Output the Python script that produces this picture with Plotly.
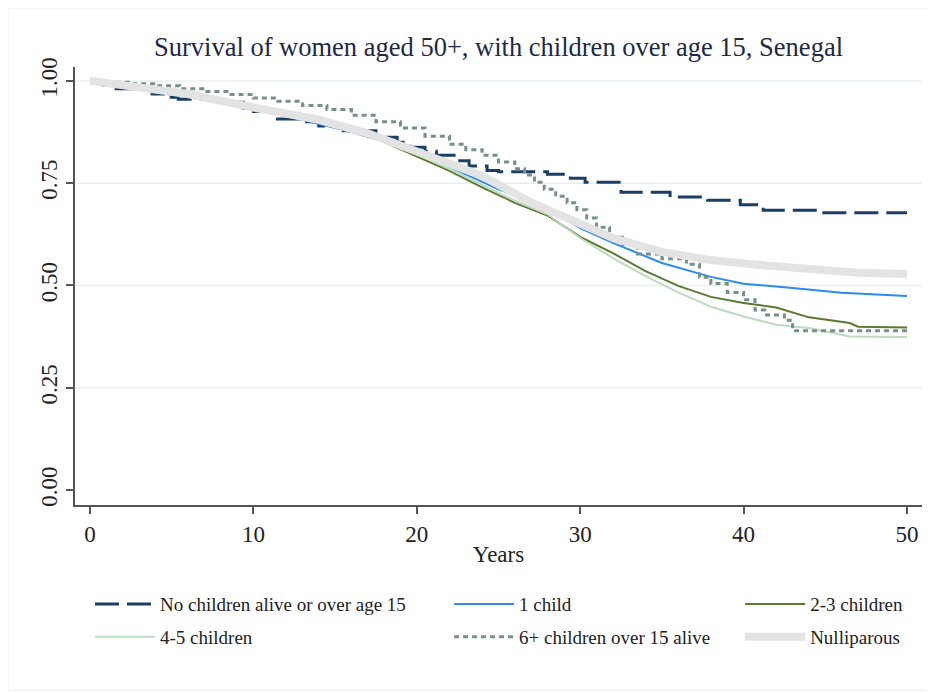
import plotly.graph_objects as go

# ---------------- data ----------------
x_none = [0, 0.8, 1.6, 3.8, 4.6, 5.4, 8, 9.4, 10, 11.2, 13, 14, 15.5, 17.5, 18.8, 19.6, 20.5, 21.2,
          22.5, 23.2, 24.3, 25, 28, 29.4, 30.3, 32.5, 35.5, 37.8, 39.8, 41.2, 44.5, 50]
y_none = [1.0, 0.99, 0.981, 0.968, 0.96, 0.955, 0.948, 0.933, 0.925, 0.907, 0.9, 0.89, 0.878, 0.862,
          0.85, 0.838, 0.828, 0.818, 0.805, 0.792, 0.781, 0.778, 0.772, 0.762, 0.752, 0.728, 0.716,
          0.708, 0.697, 0.684, 0.678, 0.678]

x_one = [0, 2, 4, 6, 8, 10, 13, 16, 19, 22, 25, 27, 28, 30, 32, 35, 38, 40, 43, 46, 50]
y_one = [1.0, 0.99, 0.972, 0.96, 0.948, 0.932, 0.905, 0.875, 0.84, 0.79, 0.735, 0.707, 0.688, 0.64,
         0.604, 0.555, 0.521, 0.504, 0.494, 0.482, 0.474]

x_23 = [0, 3, 6, 10, 14, 17, 18, 20, 22, 24, 26, 28, 30, 32, 34, 36, 38, 40, 42, 44, 46.5, 47, 50]
y_23 = [1.0, 0.984, 0.967, 0.934, 0.903, 0.868, 0.85, 0.815, 0.78, 0.74, 0.702, 0.671, 0.619, 0.579,
        0.535, 0.499, 0.472, 0.457, 0.446, 0.422, 0.408, 0.399, 0.397]

x_45 = [0, 3, 6, 10, 14, 17, 18, 20, 22, 24, 26, 28, 30, 32, 34, 36, 38, 40, 42, 44, 45, 46.5, 50]
y_45 = [1.0, 0.986, 0.969, 0.936, 0.905, 0.872, 0.856, 0.82, 0.785, 0.746, 0.707, 0.674, 0.616, 0.567,
        0.523, 0.483, 0.448, 0.424, 0.404, 0.396, 0.388, 0.375, 0.374]

x_6p = [0, 1, 2.5, 4, 5.5, 7, 8.5, 10, 11.5, 13, 14.5, 16, 17.5, 19, 20.5, 22, 23, 24, 25, 26, 26.6,
        27.2, 27.8, 28.5, 29.2, 29.8, 30.4, 31, 31.8, 32.6, 33.5, 35, 36.5, 37.3, 38, 39, 40, 40.7,
        41.3, 42.5, 43, 50]
y_6p = [1.0, 0.997, 0.993, 0.988, 0.981, 0.974, 0.967, 0.958, 0.95, 0.94, 0.93, 0.916, 0.9, 0.885,
        0.865, 0.845, 0.832, 0.818, 0.802, 0.785, 0.77, 0.752, 0.735, 0.718, 0.702, 0.685, 0.665,
        0.642, 0.618, 0.6, 0.577, 0.565, 0.552, 0.52, 0.505, 0.483, 0.465, 0.44, 0.428, 0.415,
        0.389, 0.389]

x_nulli = [0, 3, 6, 10, 14, 17, 21, 24, 27, 30, 32, 35, 38, 41, 44, 47, 50]
y_nulli = [1.0, 0.985, 0.968, 0.935, 0.905, 0.872, 0.812, 0.768, 0.703, 0.648, 0.616, 0.582, 0.562,
           0.550, 0.540, 0.531, 0.528]

x_ticks = [0, 10, 20, 30, 40, 50]
y_ticks = [0.0, 0.25, 0.5, 0.75, 1.0]

FONT = "Liberation Serif, Times New Roman, serif"

fig = go.Figure()

fig.add_trace(go.Scatter(x=x_none, y=y_none, mode="lines", line_shape="hv",
                         name="No children alive or over age 15", legend="legend", legendgroup="a",
                         line=dict(color="#1a3f66", width=3, dash="24px,8px")))
fig.add_trace(go.Scatter(x=x_one, y=y_one, mode="lines", name="1 child", legend="legend2",
                         legendgroup="b", line=dict(color="#2a8cf0", width=2)))
fig.add_trace(go.Scatter(x=x_23, y=y_23, mode="lines", name="2-3 children", legend="legend3",
                         legendgroup="c", line=dict(color="#5a7a2e", width=2)))
fig.add_trace(go.Scatter(x=x_45, y=y_45, mode="lines", name="4-5 children", legend="legend",
                         legendgroup="d", line=dict(color="#bcdbbf", width=2)))
fig.add_trace(go.Scatter(x=x_6p, y=y_6p, mode="lines", line_shape="hv",
                         name="6+ children over 15 alive", legend="legend2", legendgroup="e",
                         line=dict(color="#75918a", width=3, dash="5px,4px")))
fig.add_trace(go.Scatter(x=x_nulli, y=y_nulli, mode="lines", name="Nulliparous", legend="legend3",
                         legendgroup="f", line=dict(color="#e3e3e3", width=8)))

leg_common = dict(orientation="v", xanchor="left", yanchor="top", bgcolor="rgba(0,0,0,0)",
                  font=dict(family=FONT, size=19, color="#222222"), itemwidth=60,
                  tracegroupgap=5, itemclick=False)

# page body has an 8px margin: the figure is sized so the plot area lands at x 75..922, y 67..505
W, H = 927, 684
fig.update_layout(
    width=W, height=H,
    margin=dict(l=67, r=13, t=59, b=187),
    paper_bgcolor="white", plot_bgcolor="white",
    font=dict(family=FONT, color="#222222"),
    title=dict(text="Survival of women aged 50+, with children over age 15, Senegal",
               x=0.5, xref="paper", xanchor="center", y=1 - 39 / H, yanchor="middle",
               font=dict(family=FONT, size=26.5, color="#1c2a44")),
    showlegend=True,
    legend=dict(x=0.0177, y=-0.183, **leg_common),
    legend2=dict(x=0.4416, y=-0.183, **leg_common),
    legend3=dict(x=0.7853, y=-0.183, **leg_common),
    xaxis=dict(range=[-0.92, 50.92], tickvals=x_ticks, showgrid=False, zeroline=False,
               showline=True, linecolor="#555555", linewidth=2, ticks="outside", ticklen=7,
               tickwidth=2, tickcolor="#555555", tickfont=dict(size=23, family=FONT),
               title=dict(text="Years", font=dict(size=23, family=FONT), standoff=0)),
    yaxis=dict(range=[-0.0367, 1.034], tickvals=y_ticks, tickformat=".2f", tickangle=-90,
               showgrid=False, zeroline=False,
               showline=True, linecolor="#555555", linewidth=2, ticks="outside", ticklen=7,
               tickwidth=2, tickcolor="#555555", tickfont=dict(size=23, family=FONT)),
)

# light horizontal gridlines (none at 0)
for yv in y_ticks[1:]:
    fig.add_shape(type="line", xref="paper", yref="y", x0=0, x1=1, y0=yv, y1=yv,
                  line=dict(color="#e9efef", width=1.5), layer="below")

# faint outer graph-region frame
fig.add_shape(type="rect", xref="paper", yref="paper",
              x0=(8 - 75) / 847, x1=1.05, y0=(505 - 690) / 438, y1=(505 - 8) / 438,
              line=dict(color="#eeeeee", width=1), layer="below")

fig.write_html("out.html")
